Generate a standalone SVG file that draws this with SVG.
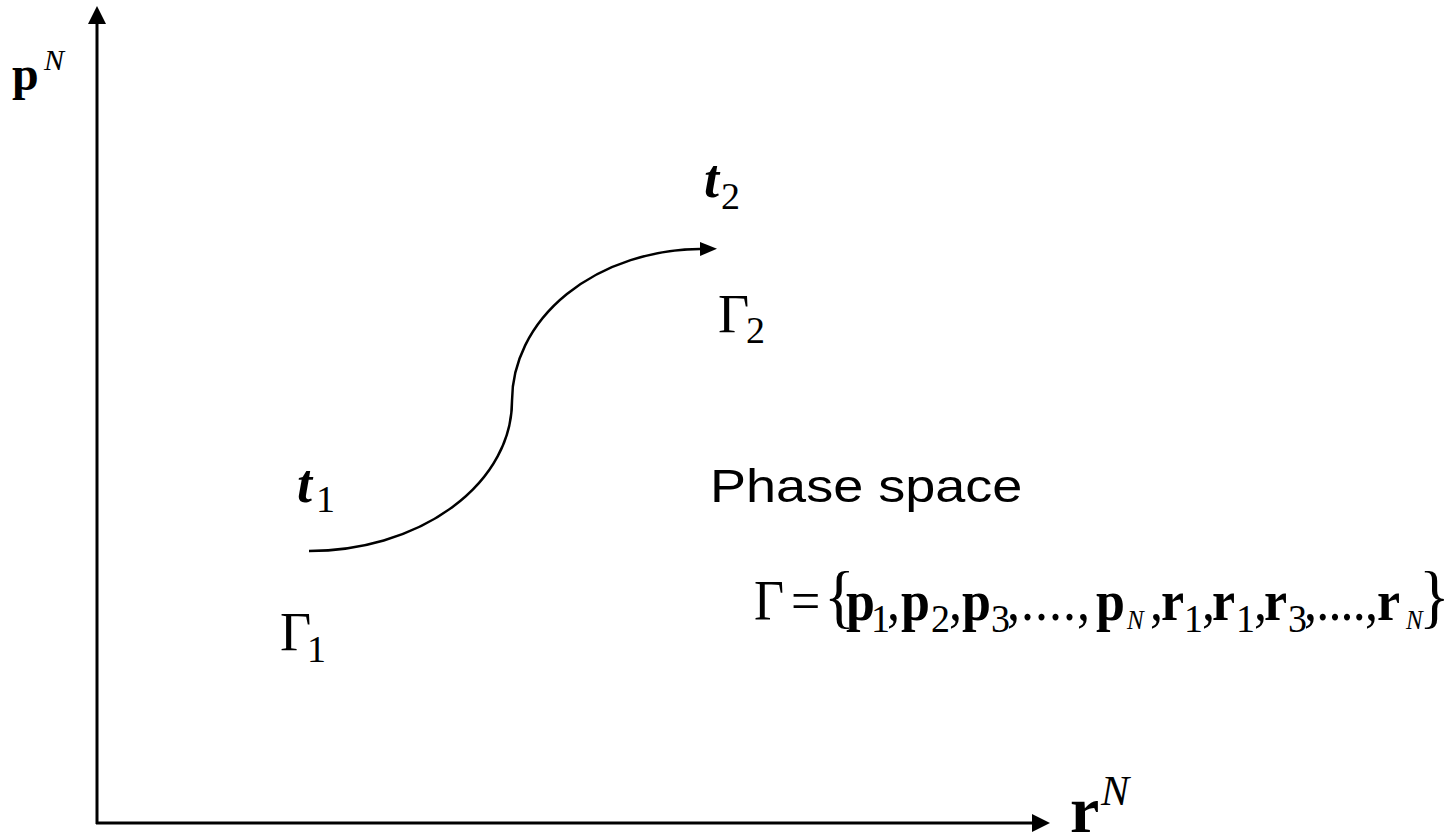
<svg xmlns="http://www.w3.org/2000/svg" width="1448" height="836" viewBox="0 0 1448 836">
  <defs>
    <marker id="ah" markerUnits="userSpaceOnUse" markerWidth="18" markerHeight="18" viewBox="0 0 16 16" refX="0" refY="8" orient="auto">
      <path d="M0,0 L16,8 L0,16 Z" fill="#000"/>
    </marker>
    <marker id="ah2" markerUnits="userSpaceOnUse" markerWidth="17" markerHeight="14" viewBox="0 0 17 14" refX="0" refY="7" orient="auto">
      <path d="M0,0 L17,7 L0,14 Z" fill="#000"/>
    </marker>
    <style>
      .serif { font-family: "Liberation Serif", "Times New Roman", serif; fill: #000; }
      .b { font-weight: bold; }
      .i { font-style: italic; }
      .main { font-size: 52px; }
      .lbl { font-size: 54px; }
      .sub { font-size: 38px; font-weight: normal; font-style: normal; }
      .subN { font-size: 25px; font-style: italic; font-weight: normal; }
      .brace { font-size: 64px; }
      .sans { font-family: "Liberation Sans", Arial, sans-serif; font-size: 47px; fill: #000; }
      .axis { stroke: #000; stroke-width: 3; fill: none; }
      .curve { stroke: #000; stroke-width: 2.5; fill: none; }
    </style>
  </defs>
  <rect width="1448" height="836" fill="#fff"/>

  <g id="connectors">
    <line class="axis" x1="97" y1="824" x2="97" y2="24" marker-end="url(#ah)"/>
    <line class="axis" x1="96" y1="823" x2="1032" y2="823" marker-end="url(#ah)"/>
    <path class="curve" d="M309,551 A203,150 0 0 0 512,401 A190,152 0 0 1 700,249" marker-end="url(#ah2)"/>
  </g>

  <g id="axis-p">
    <text class="serif" x="12" y="90"><tspan class="b" font-size="48">p</tspan><tspan class="i" x="44" y="70" font-size="30">N</tspan></text>
  </g>
  <g id="axis-r">
    <text class="serif" x="1070" y="832"><tspan class="b" font-size="66">r</tspan><tspan class="i" x="1101" y="805" font-size="42">N</tspan></text>
  </g>

  <g id="t1">
    <text class="serif lbl" x="297" y="502"><tspan class="i b">t</tspan><tspan class="sub" x="316" y="512">1</tspan></text>
  </g>
  <g id="gamma1">
    <text class="serif lbl" x="280" y="650">Γ<tspan class="sub" x="307" y="662">1</tspan></text>
  </g>
  <g id="t2">
    <text class="serif lbl" x="704" y="197"><tspan class="i b">t</tspan><tspan class="sub" x="721" y="209">2</tspan></text>
  </g>
  <g id="gamma2">
    <text class="serif lbl" x="718" y="332">Γ<tspan class="sub" x="746" y="343">2</tspan></text>
  </g>

  <g id="phase-space">
    <text class="sans" transform="translate(710,502) scale(1.15,1)" x="0" y="0">Phase space</text>
  </g>

  <g id="formula" transform="translate(0,620) scale(1,1.08) translate(0,-620)">
    <text class="serif main" x="754" y="620">Γ<tspan x="791">=</tspan><tspan class="brace" x="824" y="620">{</tspan><tspan class="b" x="846" y="620">p</tspan><tspan class="sub" x="871" y="631">1</tspan><tspan x="887" y="620">,</tspan><tspan class="b" x="901">p</tspan><tspan class="sub" x="931" y="631">2</tspan><tspan x="949" y="620">,</tspan><tspan class="b" x="962">p</tspan><tspan class="sub" x="991" y="631">3</tspan><tspan x="1007" y="620" textLength="83" lengthAdjust="spacing">,....,</tspan><tspan class="b" x="1096">p</tspan><tspan class="subN" x="1127" y="628">N</tspan><tspan x="1150" y="620">,</tspan><tspan class="b" x="1161">r</tspan><tspan class="sub" x="1184" y="631">1</tspan><tspan x="1202" y="620">,</tspan><tspan class="b" x="1212">r</tspan><tspan class="sub" x="1236" y="631">1</tspan><tspan x="1254" y="620">,</tspan><tspan class="b" x="1264">r</tspan><tspan class="sub" x="1288" y="631">3</tspan><tspan x="1304" y="620" textLength="74" lengthAdjust="spacing">,....,</tspan><tspan class="b" x="1377">r</tspan><tspan class="subN" x="1406" y="628">N</tspan><tspan class="brace" x="1419" y="620">}</tspan></text>
  </g>
</svg>
